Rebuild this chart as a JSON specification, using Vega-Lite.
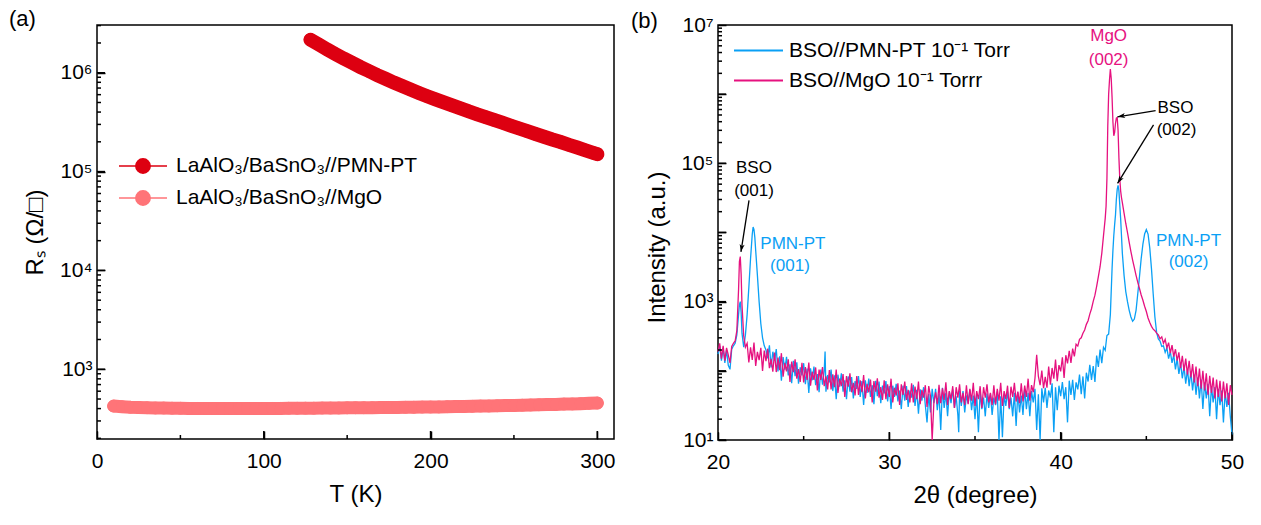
{
"$schema": "https://vega.github.io/schema/vega-lite/v6.json",
"background": "white",
"padding": {"left": 8, "top": 6, "right": 0, "bottom": 0},
"config": {
 "font": "Liberation Sans",
 "view": {"stroke": "black", "strokeWidth": 1.5},
 "axis": {"labelFont": "Liberation Sans", "labelFontSize": 21, "labelColor": "black", "titleFont": "Liberation Sans", "titleFontSize": 24, "titleFontWeight": "normal", "titleColor": "black", "domainColor": "black", "domainWidth": 1.5, "tickColor": "black", "tickWidth": 1.5, "grid": false, "labelFlush": false, "labelOverlap": false},
 "legend": {"labelFont": "Liberation Sans", "labelFontSize": 21, "labelColor": "black", "labelLimit": 500},
 "title": {"font": "Liberation Sans", "fontSize": 22, "fontWeight": "normal", "color": "black", "anchor": "start", "frame": "group"}
},
"datasets": {
 "pmn_rs": [{"T":128,"R":2160000},{"T":133,"R":1928000},{"T":138,"R":1718000},{"T":143,"R":1545000},{"T":148,"R":1390000},{"T":153,"R":1259000},{"T":158,"R":1140000},{"T":163,"R":1040000},{"T":168,"R":948000},{"T":173,"R":869000},{"T":178,"R":796000},{"T":183,"R":733000},{"T":188,"R":676000},{"T":193,"R":625000},{"T":198,"R":579000},{"T":203,"R":538000},{"T":208,"R":501000},{"T":213,"R":467000},{"T":218,"R":436000},{"T":223,"R":406000},{"T":228,"R":380000},{"T":233,"R":356000},{"T":238,"R":333000},{"T":243,"R":312000},{"T":248,"R":292000},{"T":253,"R":274000},{"T":258,"R":256000},{"T":263,"R":240000},{"T":268,"R":225000},{"T":273,"R":211000},{"T":278,"R":199000},{"T":283,"R":186000},{"T":288,"R":175000},{"T":293,"R":164000},{"T":298,"R":154000},{"T":300,"R":150000}],
 "mgo_rs": [{"T":10,"R":424},{"T":15,"R":418},{"T":20,"R":413},{"T":25,"R":410},{"T":30,"R":408},{"T":35,"R":406},{"T":40,"R":405},{"T":45,"R":404},{"T":50,"R":403},{"T":55,"R":402},{"T":60,"R":402},{"T":65,"R":401},{"T":70,"R":401},{"T":75,"R":401},{"T":80,"R":401},{"T":85,"R":401},{"T":90,"R":401},{"T":95,"R":401},{"T":100,"R":401},{"T":105,"R":402},{"T":110,"R":402},{"T":115,"R":403},{"T":120,"R":403},{"T":125,"R":404},{"T":130,"R":404},{"T":135,"R":405},{"T":140,"R":405},{"T":145,"R":406},{"T":150,"R":407},{"T":155,"R":408},{"T":160,"R":408},{"T":165,"R":409},{"T":170,"R":410},{"T":175,"R":411},{"T":180,"R":411},{"T":185,"R":412},{"T":190,"R":413},{"T":195,"R":414},{"T":200,"R":415},{"T":205,"R":416},{"T":210,"R":418},{"T":215,"R":419},{"T":220,"R":421},{"T":225,"R":422},{"T":230,"R":424},{"T":235,"R":425},{"T":240,"R":427},{"T":245,"R":429},{"T":250,"R":431},{"T":255,"R":433},{"T":260,"R":435},{"T":265,"R":437},{"T":270,"R":439},{"T":275,"R":441},{"T":280,"R":444},{"T":285,"R":446},{"T":290,"R":449},{"T":295,"R":452},{"T":300,"R":455}],
 "a_x_major": [{"v":0},{"v":100},{"v":200},{"v":300}],
 "a_x_minor": [{"v":50},{"v":150},{"v":250}],
 "a_y_major": [{"v":1000},{"v":10000},{"v":100000},{"v":1000000}],
 "a_y_minor": [{"v":200},{"v":300},{"v":400},{"v":500},{"v":600},{"v":700},{"v":800},{"v":900},{"v":2000},{"v":3000},{"v":4000},{"v":5000},{"v":6000},{"v":7000},{"v":8000},{"v":9000},{"v":20000},{"v":30000},{"v":40000},{"v":50000},{"v":60000},{"v":70000},{"v":80000},{"v":90000},{"v":200000},{"v":300000},{"v":400000},{"v":500000},{"v":600000},{"v":700000},{"v":800000},{"v":900000},{"v":2000000},{"v":3000000}],
 "b_x_major": [{"v":20},{"v":30},{"v":40},{"v":50}],
 "b_x_minor": [{"v":25},{"v":35},{"v":45}],
 "b_y_major": [{"v":10},{"v":100},{"v":1000},{"v":10000},{"v":100000},{"v":1000000},{"v":10000000}],
 "b_y_minor": [{"v":20},{"v":30},{"v":40},{"v":50},{"v":60},{"v":70},{"v":80},{"v":90},{"v":200},{"v":300},{"v":400},{"v":500},{"v":600},{"v":700},{"v":800},{"v":900},{"v":2000},{"v":3000},{"v":4000},{"v":5000},{"v":6000},{"v":7000},{"v":8000},{"v":9000},{"v":20000},{"v":30000},{"v":40000},{"v":50000},{"v":60000},{"v":70000},{"v":80000},{"v":90000},{"v":200000},{"v":300000},{"v":400000},{"v":500000},{"v":600000},{"v":700000},{"v":800000},{"v":900000},{"v":2000000},{"v":3000000},{"v":4000000},{"v":5000000},{"v":6000000},{"v":7000000},{"v":8000000},{"v":9000000}],
 "xrd_pmn": [{"angle":20,"intensity":175},{"angle":20.1,"intensity":230},{"angle":20.2,"intensity":140},{"angle":20.3,"intensity":215},{"angle":20.4,"intensity":130},{"angle":20.5,"intensity":200},{"angle":20.6,"intensity":120},{"angle":20.7,"intensity":105},{"angle":20.8,"intensity":205},{"angle":20.9,"intensity":230},{"angle":21,"intensity":250},{"angle":21.1,"intensity":330},{"angle":21.2,"intensity":650},{"angle":21.25,"intensity":900},{"angle":21.3,"intensity":1000},{"angle":21.35,"intensity":700},{"angle":21.4,"intensity":350},{"angle":21.5,"intensity":220},{"angle":21.6,"intensity":330},{"angle":21.7,"intensity":650},{"angle":21.8,"intensity":1600},{"angle":21.9,"intensity":4200},{"angle":22,"intensity":9500},{"angle":22.05,"intensity":12000},{"angle":22.1,"intensity":11000},{"angle":22.15,"intensity":8500},{"angle":22.2,"intensity":5500},{"angle":22.3,"intensity":2400},{"angle":22.4,"intensity":1000},{"angle":22.5,"intensity":480},{"angle":22.6,"intensity":300},{"angle":22.7,"intensity":230},{"angle":22.8,"intensity":200},{"angle":22.9,"intensity":152},{"angle":23,"intensity":234},{"angle":23.1,"intensity":112},{"angle":23.2,"intensity":189},{"angle":23.3,"intensity":140},{"angle":23.4,"intensity":207},{"angle":23.5,"intensity":98},{"angle":23.6,"intensity":162},{"angle":23.7,"intensity":72},{"angle":23.8,"intensity":158},{"angle":23.9,"intensity":104},{"angle":24,"intensity":159},{"angle":24.1,"intensity":86},{"angle":24.2,"intensity":124},{"angle":24.3,"intensity":66},{"angle":24.4,"intensity":140},{"angle":24.5,"intensity":84},{"angle":24.6,"intensity":133},{"angle":24.7,"intensity":65},{"angle":24.8,"intensity":112},{"angle":24.9,"intensity":86},{"angle":25,"intensity":129},{"angle":25.1,"intensity":64},{"angle":25.2,"intensity":108},{"angle":25.3,"intensity":48},{"angle":25.4,"intensity":109},{"angle":25.5,"intensity":73},{"angle":25.6,"intensity":115},{"angle":25.7,"intensity":62},{"angle":25.8,"intensity":90},{"angle":25.9,"intensity":49},{"angle":26,"intensity":104},{"angle":26.1,"intensity":63},{"angle":26.2,"intensity":101},{"angle":26.25,"intensity":190},{"angle":26.3,"intensity":50},{"angle":26.4,"intensity":87},{"angle":26.5,"intensity":68},{"angle":26.6,"intensity":104},{"angle":26.7,"intensity":51},{"angle":26.8,"intensity":86},{"angle":26.9,"intensity":39},{"angle":27,"intensity":88},{"angle":27.1,"intensity":59},{"angle":27.2,"intensity":92},{"angle":27.3,"intensity":50},{"angle":27.4,"intensity":73},{"angle":27.5,"intensity":39},{"angle":27.6,"intensity":83},{"angle":27.7,"intensity":50},{"angle":27.8,"intensity":81},{"angle":27.9,"intensity":40},{"angle":28,"intensity":71},{"angle":28.1,"intensity":55},{"angle":28.2,"intensity":84},{"angle":28.3,"intensity":42},{"angle":28.4,"intensity":71},{"angle":28.5,"intensity":32},{"angle":28.6,"intensity":73},{"angle":28.7,"intensity":48},{"angle":28.8,"intensity":77},{"angle":28.9,"intensity":42},{"angle":29,"intensity":62},{"angle":29.1,"intensity":33},{"angle":29.2,"intensity":72},{"angle":29.3,"intensity":43},{"angle":29.4,"intensity":70},{"angle":29.5,"intensity":34},{"angle":29.6,"intensity":61},{"angle":29.7,"intensity":47},{"angle":29.8,"intensity":71},{"angle":29.9,"intensity":36},{"angle":30,"intensity":60},{"angle":30.1,"intensity":28},{"angle":30.2,"intensity":61},{"angle":30.3,"intensity":42},{"angle":30.4,"intensity":65},{"angle":30.5,"intensity":36},{"angle":30.6,"intensity":52},{"angle":30.7,"intensity":28},{"angle":30.8,"intensity":61},{"angle":30.9,"intensity":37},{"angle":31,"intensity":60},{"angle":31.1,"intensity":30},{"angle":31.2,"intensity":52},{"angle":31.3,"intensity":41},{"angle":31.4,"intensity":63},{"angle":31.5,"intensity":31},{"angle":31.6,"intensity":53},{"angle":31.7,"intensity":24},{"angle":31.8,"intensity":54},{"angle":31.9,"intensity":37},{"angle":32,"intensity":58},{"angle":32.1,"intensity":32},{"angle":32.2,"intensity":18},{"angle":32.3,"intensity":46},{"angle":32.4,"intensity":25},{"angle":32.5,"intensity":55},{"angle":32.6,"intensity":34},{"angle":32.7,"intensity":55},{"angle":32.8,"intensity":27},{"angle":32.9,"intensity":47},{"angle":33,"intensity":14},{"angle":33.1,"intensity":57},{"angle":33.2,"intensity":29},{"angle":33.3,"intensity":48},{"angle":33.4,"intensity":22},{"angle":33.5,"intensity":50},{"angle":33.6,"intensity":34},{"angle":33.7,"intensity":54},{"angle":33.8,"intensity":29},{"angle":33.9,"intensity":43},{"angle":34,"intensity":23},{"angle":34.05,"intensity":13},{"angle":34.1,"intensity":51},{"angle":34.2,"intensity":31},{"angle":34.3,"intensity":51},{"angle":34.4,"intensity":25},{"angle":34.5,"intensity":44},{"angle":34.6,"intensity":34},{"angle":34.7,"intensity":53},{"angle":34.8,"intensity":27},{"angle":34.9,"intensity":44},{"angle":35,"intensity":20},{"angle":35.1,"intensity":46},{"angle":35.2,"intensity":13},{"angle":35.3,"intensity":50},{"angle":35.4,"intensity":28},{"angle":35.5,"intensity":41},{"angle":35.6,"intensity":22},{"angle":35.7,"intensity":47},{"angle":35.8,"intensity":29},{"angle":35.9,"intensity":47},{"angle":36,"intensity":23},{"angle":36.1,"intensity":41},{"angle":36.2,"intensity":32},{"angle":36.3,"intensity":50},{"angle":36.4,"intensity":10},{"angle":36.5,"intensity":43},{"angle":36.6,"intensity":11},{"angle":36.7,"intensity":45},{"angle":36.8,"intensity":31},{"angle":36.9,"intensity":50},{"angle":37,"intensity":28},{"angle":37.1,"intensity":41},{"angle":37.2,"intensity":22},{"angle":37.3,"intensity":48},{"angle":37.4,"intensity":16},{"angle":37.5,"intensity":49},{"angle":37.6,"intensity":25},{"angle":37.7,"intensity":44},{"angle":37.8,"intensity":23},{"angle":37.9,"intensity":55},{"angle":38,"intensity":28},{"angle":38.1,"intensity":48},{"angle":38.2,"intensity":22},{"angle":38.3,"intensity":51},{"angle":38.4,"intensity":35},{"angle":38.5,"intensity":55},{"angle":38.6,"intensity":14},{"angle":38.7,"intensity":46},{"angle":38.8,"intensity":10},{"angle":38.9,"intensity":56},{"angle":39,"intensity":35},{"angle":39.1,"intensity":57},{"angle":39.2,"intensity":29},{"angle":39.3,"intensity":52},{"angle":39.4,"intensity":41},{"angle":39.5,"intensity":66},{"angle":39.6,"intensity":13},{"angle":39.7,"intensity":58},{"angle":39.8,"intensity":27},{"angle":39.9,"intensity":61},{"angle":40,"intensity":43},{"angle":40.1,"intensity":69},{"angle":40.2,"intensity":39},{"angle":40.3,"intensity":58},{"angle":40.4,"intensity":18},{"angle":40.5,"intensity":72},{"angle":40.6,"intensity":45},{"angle":40.7,"intensity":74},{"angle":40.8,"intensity":38},{"angle":40.9,"intensity":68},{"angle":41,"intensity":54},{"angle":41.1,"intensity":88},{"angle":41.2,"intensity":46},{"angle":41.3,"intensity":83},{"angle":41.4,"intensity":40},{"angle":41.5,"intensity":94},{"angle":41.6,"intensity":70},{"angle":41.7,"intensity":122},{"angle":41.8,"intensity":74},{"angle":41.9,"intensity":117},{"angle":42,"intensity":69},{"angle":42.1,"intensity":166},{"angle":42.2,"intensity":114},{"angle":42.3,"intensity":203},{"angle":42.4,"intensity":129},{"angle":42.5,"intensity":219},{"angle":42.6,"intensity":198},{"angle":42.7,"intensity":324},{"angle":42.8,"intensity":340},{"angle":42.9,"intensity":650},{"angle":43,"intensity":3000},{"angle":43.05,"intensity":5500},{"angle":43.1,"intensity":9000},{"angle":43.15,"intensity":13000},{"angle":43.2,"intensity":18000},{"angle":43.25,"intensity":30000},{"angle":43.3,"intensity":42000},{"angle":43.35,"intensity":48000},{"angle":43.4,"intensity":40000},{"angle":43.45,"intensity":25000},{"angle":43.5,"intensity":16000},{"angle":43.55,"intensity":9000},{"angle":43.6,"intensity":5000},{"angle":43.7,"intensity":2400},{"angle":43.8,"intensity":1400},{"angle":43.9,"intensity":1000},{"angle":44,"intensity":750},{"angle":44.1,"intensity":600},{"angle":44.2,"intensity":520},{"angle":44.3,"intensity":560},{"angle":44.4,"intensity":750},{"angle":44.5,"intensity":1300},{"angle":44.6,"intensity":2300},{"angle":44.7,"intensity":4200},{"angle":44.8,"intensity":6800},{"angle":44.9,"intensity":9500},{"angle":45,"intensity":11000},{"angle":45.1,"intensity":9500},{"angle":45.2,"intensity":6000},{"angle":45.3,"intensity":3000},{"angle":45.4,"intensity":1300},{"angle":45.5,"intensity":600},{"angle":45.6,"intensity":360},{"angle":45.7,"intensity":290},{"angle":45.8,"intensity":270},{"angle":45.9,"intensity":225},{"angle":46,"intensity":230},{"angle":46.1,"intensity":185},{"angle":46.2,"intensity":215},{"angle":46.3,"intensity":150},{"angle":46.4,"intensity":190},{"angle":46.5,"intensity":130},{"angle":46.6,"intensity":170},{"angle":46.7,"intensity":105},{"angle":46.8,"intensity":150},{"angle":46.9,"intensity":90},{"angle":47,"intensity":130},{"angle":47.1,"intensity":78},{"angle":47.2,"intensity":115},{"angle":47.3,"intensity":65},{"angle":47.4,"intensity":105},{"angle":47.5,"intensity":60},{"angle":47.6,"intensity":98},{"angle":47.7,"intensity":52},{"angle":47.8,"intensity":88},{"angle":47.9,"intensity":45},{"angle":48,"intensity":80},{"angle":48.1,"intensity":40},{"angle":48.2,"intensity":75},{"angle":48.3,"intensity":28},{"angle":48.4,"intensity":68},{"angle":48.5,"intensity":40},{"angle":48.6,"intensity":65},{"angle":48.7,"intensity":22},{"angle":48.8,"intensity":60},{"angle":48.9,"intensity":35},{"angle":49,"intensity":58},{"angle":49.1,"intensity":20},{"angle":49.2,"intensity":55},{"angle":49.3,"intensity":32},{"angle":49.4,"intensity":52},{"angle":49.5,"intensity":18},{"angle":49.6,"intensity":50},{"angle":49.7,"intensity":30},{"angle":49.8,"intensity":48},{"angle":49.9,"intensity":22},{"angle":50,"intensity":12}],
 "xrd_mgo": [{"angle":20,"intensity":190},{"angle":20.1,"intensity":250},{"angle":20.2,"intensity":150},{"angle":20.3,"intensity":230},{"angle":20.4,"intensity":140},{"angle":20.5,"intensity":215},{"angle":20.6,"intensity":170},{"angle":20.7,"intensity":130},{"angle":20.8,"intensity":225},{"angle":20.9,"intensity":250},{"angle":21,"intensity":270},{"angle":21.1,"intensity":380},{"angle":21.2,"intensity":1500},{"angle":21.25,"intensity":3800},{"angle":21.3,"intensity":4500},{"angle":21.35,"intensity":2500},{"angle":21.4,"intensity":900},{"angle":21.5,"intensity":320},{"angle":21.6,"intensity":220},{"angle":21.7,"intensity":250},{"angle":21.8,"intensity":132},{"angle":21.9,"intensity":218},{"angle":22,"intensity":144},{"angle":22.1,"intensity":257},{"angle":22.2,"intensity":118},{"angle":22.3,"intensity":188},{"angle":22.4,"intensity":143},{"angle":22.5,"intensity":215},{"angle":22.6,"intensity":100},{"angle":22.7,"intensity":196},{"angle":22.8,"intensity":138},{"angle":22.9,"intensity":209},{"angle":23,"intensity":109},{"angle":23.1,"intensity":149},{"angle":23.2,"intensity":97},{"angle":23.3,"intensity":184},{"angle":23.4,"intensity":96},{"angle":23.5,"intensity":156},{"angle":23.6,"intensity":102},{"angle":23.7,"intensity":180},{"angle":23.8,"intensity":82},{"angle":23.9,"intensity":130},{"angle":24,"intensity":98},{"angle":24.1,"intensity":147},{"angle":24.2,"intensity":69},{"angle":24.3,"intensity":136},{"angle":24.4,"intensity":96},{"angle":24.5,"intensity":147},{"angle":24.6,"intensity":77},{"angle":24.7,"intensity":106},{"angle":24.8,"intensity":69},{"angle":24.9,"intensity":131},{"angle":25,"intensity":68},{"angle":25.1,"intensity":113},{"angle":25.2,"intensity":74},{"angle":25.3,"intensity":132},{"angle":25.4,"intensity":61},{"angle":25.5,"intensity":97},{"angle":25.6,"intensity":74},{"angle":25.7,"intensity":112},{"angle":25.8,"intensity":52},{"angle":25.9,"intensity":104},{"angle":26,"intensity":74},{"angle":26.1,"intensity":113},{"angle":26.2,"intensity":60},{"angle":26.3,"intensity":83},{"angle":26.4,"intensity":54},{"angle":26.5,"intensity":103},{"angle":26.6,"intensity":54},{"angle":26.7,"intensity":89},{"angle":26.8,"intensity":58},{"angle":26.9,"intensity":104},{"angle":27,"intensity":48},{"angle":27.1,"intensity":77},{"angle":27.2,"intensity":60},{"angle":27.3,"intensity":90},{"angle":27.4,"intensity":42},{"angle":27.5,"intensity":84},{"angle":27.6,"intensity":59},{"angle":27.7,"intensity":92},{"angle":27.8,"intensity":49},{"angle":27.9,"intensity":67},{"angle":28,"intensity":44},{"angle":28.1,"intensity":84},{"angle":28.2,"intensity":45},{"angle":28.3,"intensity":73},{"angle":28.4,"intensity":49},{"angle":28.5,"intensity":87},{"angle":28.6,"intensity":40},{"angle":28.7,"intensity":65},{"angle":28.8,"intensity":49},{"angle":28.9,"intensity":75},{"angle":29,"intensity":35},{"angle":29.1,"intensity":71},{"angle":29.2,"intensity":50},{"angle":29.3,"intensity":78},{"angle":29.4,"intensity":41},{"angle":29.5,"intensity":58},{"angle":29.6,"intensity":38},{"angle":29.7,"intensity":73},{"angle":29.8,"intensity":39},{"angle":29.9,"intensity":64},{"angle":30,"intensity":42},{"angle":30.1,"intensity":77},{"angle":30.2,"intensity":35},{"angle":30.3,"intensity":57},{"angle":30.4,"intensity":44},{"angle":30.5,"intensity":66},{"angle":30.6,"intensity":32},{"angle":30.7,"intensity":64},{"angle":30.8,"intensity":45},{"angle":30.9,"intensity":70},{"angle":31,"intensity":38},{"angle":31.1,"intensity":53},{"angle":31.2,"intensity":35},{"angle":31.3,"intensity":66},{"angle":31.4,"intensity":35},{"angle":31.5,"intensity":59},{"angle":31.6,"intensity":39},{"angle":31.7,"intensity":70},{"angle":31.8,"intensity":33},{"angle":31.9,"intensity":53},{"angle":32,"intensity":41},{"angle":32.1,"intensity":62},{"angle":32.2,"intensity":30},{"angle":32.3,"intensity":60},{"angle":32.4,"intensity":43},{"angle":32.5,"intensity":10},{"angle":32.6,"intensity":35},{"angle":32.7,"intensity":49},{"angle":32.8,"intensity":33},{"angle":32.9,"intensity":63},{"angle":33,"intensity":34},{"angle":33.1,"intensity":56},{"angle":33.2,"intensity":38},{"angle":33.3,"intensity":68},{"angle":33.4,"intensity":32},{"angle":33.5,"intensity":51},{"angle":33.6,"intensity":39},{"angle":33.7,"intensity":60},{"angle":33.8,"intensity":29},{"angle":33.9,"intensity":58},{"angle":34,"intensity":41},{"angle":34.1,"intensity":64},{"angle":34.2,"intensity":35},{"angle":34.3,"intensity":48},{"angle":34.4,"intensity":32},{"angle":34.5,"intensity":62},{"angle":34.6,"intensity":33},{"angle":34.7,"intensity":55},{"angle":34.8,"intensity":37},{"angle":34.9,"intensity":67},{"angle":35,"intensity":31},{"angle":35.1,"intensity":51},{"angle":35.2,"intensity":39},{"angle":35.3,"intensity":60},{"angle":35.4,"intensity":29},{"angle":35.5,"intensity":58},{"angle":35.6,"intensity":41},{"angle":35.7,"intensity":64},{"angle":35.8,"intensity":35},{"angle":35.9,"intensity":48},{"angle":36,"intensity":32},{"angle":36.1,"intensity":62},{"angle":36.2,"intensity":33},{"angle":36.3,"intensity":55},{"angle":36.4,"intensity":37},{"angle":36.5,"intensity":67},{"angle":36.6,"intensity":31},{"angle":36.7,"intensity":51},{"angle":36.8,"intensity":39},{"angle":36.9,"intensity":61},{"angle":37,"intensity":29},{"angle":37.1,"intensity":59},{"angle":37.2,"intensity":42},{"angle":37.3,"intensity":67},{"angle":37.4,"intensity":36},{"angle":37.5,"intensity":50},{"angle":37.6,"intensity":34},{"angle":37.7,"intensity":66},{"angle":37.8,"intensity":36},{"angle":37.9,"intensity":61},{"angle":38,"intensity":42},{"angle":38.1,"intensity":77},{"angle":38.2,"intensity":37},{"angle":38.3,"intensity":62},{"angle":38.4,"intensity":49},{"angle":38.5,"intensity":78},{"angle":38.6,"intensity":170},{"angle":38.7,"intensity":83},{"angle":38.8,"intensity":62},{"angle":38.9,"intensity":101},{"angle":39,"intensity":56},{"angle":39.1,"intensity":82},{"angle":39.2,"intensity":57},{"angle":39.3,"intensity":115},{"angle":39.4,"intensity":63},{"angle":39.5,"intensity":110},{"angle":39.6,"intensity":77},{"angle":39.7,"intensity":145},{"angle":39.8,"intensity":71},{"angle":39.9,"intensity":121},{"angle":40,"intensity":98},{"angle":40.1,"intensity":157},{"angle":40.2,"intensity":79},{"angle":40.3,"intensity":168},{"angle":40.4,"intensity":128},{"angle":40.5,"intensity":195},{"angle":40.6,"intensity":130},{"angle":40.7,"intensity":210},{"angle":40.8,"intensity":162},{"angle":40.9,"intensity":242},{"angle":41,"intensity":228},{"angle":41.1,"intensity":285},{"angle":41.2,"intensity":300},{"angle":41.3,"intensity":350},{"angle":41.4,"intensity":390},{"angle":41.5,"intensity":470},{"angle":41.6,"intensity":530},{"angle":41.7,"intensity":660},{"angle":41.8,"intensity":790},{"angle":41.9,"intensity":1010},{"angle":42,"intensity":1240},{"angle":42.1,"intensity":1660},{"angle":42.2,"intensity":2300},{"angle":42.3,"intensity":3200},{"angle":42.4,"intensity":5000},{"angle":42.5,"intensity":9000},{"angle":42.55,"intensity":12000},{"angle":42.6,"intensity":16000},{"angle":42.65,"intensity":24000},{"angle":42.7,"intensity":60000},{"angle":42.75,"intensity":350000},{"angle":42.8,"intensity":1000000},{"angle":42.85,"intensity":1600000},{"angle":42.9,"intensity":2300000},{"angle":42.95,"intensity":1700000},{"angle":43,"intensity":900000},{"angle":43.05,"intensity":400000},{"angle":43.1,"intensity":250000},{"angle":43.15,"intensity":280000},{"angle":43.2,"intensity":380000},{"angle":43.25,"intensity":450000},{"angle":43.3,"intensity":460000},{"angle":43.35,"intensity":300000},{"angle":43.4,"intensity":120000},{"angle":43.45,"intensity":60000},{"angle":43.5,"intensity":40000},{"angle":43.55,"intensity":32000},{"angle":43.6,"intensity":27000},{"angle":43.7,"intensity":19000},{"angle":43.8,"intensity":13500},{"angle":43.9,"intensity":10000},{"angle":44,"intensity":7200},{"angle":44.1,"intensity":5300},{"angle":44.2,"intensity":4000},{"angle":44.3,"intensity":3100},{"angle":44.4,"intensity":2400},{"angle":44.5,"intensity":1900},{"angle":44.6,"intensity":1550},{"angle":44.7,"intensity":1250},{"angle":44.8,"intensity":1050},{"angle":44.9,"intensity":860},{"angle":45,"intensity":720},{"angle":45.1,"intensity":580},{"angle":45.2,"intensity":500},{"angle":45.3,"intensity":440},{"angle":45.4,"intensity":400},{"angle":45.5,"intensity":380},{"angle":45.6,"intensity":350},{"angle":45.7,"intensity":330},{"angle":45.8,"intensity":290},{"angle":45.9,"intensity":310},{"angle":46,"intensity":250},{"angle":46.1,"intensity":285},{"angle":46.2,"intensity":215},{"angle":46.3,"intensity":255},{"angle":46.4,"intensity":180},{"angle":46.5,"intensity":235},{"angle":46.6,"intensity":160},{"angle":46.7,"intensity":205},{"angle":46.8,"intensity":140},{"angle":46.9,"intensity":185},{"angle":47,"intensity":110},{"angle":47.1,"intensity":165},{"angle":47.2,"intensity":100},{"angle":47.3,"intensity":150},{"angle":47.4,"intensity":88},{"angle":47.5,"intensity":140},{"angle":47.6,"intensity":80},{"angle":47.7,"intensity":125},{"angle":47.8,"intensity":68},{"angle":47.9,"intensity":115},{"angle":48,"intensity":60},{"angle":48.1,"intensity":108},{"angle":48.2,"intensity":55},{"angle":48.3,"intensity":100},{"angle":48.4,"intensity":52},{"angle":48.5,"intensity":92},{"angle":48.6,"intensity":45},{"angle":48.7,"intensity":85},{"angle":48.8,"intensity":48},{"angle":48.9,"intensity":80},{"angle":49,"intensity":40},{"angle":49.1,"intensity":75},{"angle":49.2,"intensity":42},{"angle":49.3,"intensity":72},{"angle":49.4,"intensity":36},{"angle":49.5,"intensity":70},{"angle":49.6,"intensity":40},{"angle":49.7,"intensity":66},{"angle":49.8,"intensity":32},{"angle":49.9,"intensity":62},{"angle":50,"intensity":45}],
 "notes": [{"angle":22.1,"intensity":85000,"label":"BSO","kind":"black"},{"angle":22.1,"intensity":39400,"label":"(001)","kind":"black"},{"angle":46.7,"intensity":638000,"label":"BSO","kind":"black"},{"angle":46.76,"intensity":305000,"label":"(002)","kind":"black"},{"angle":24.37,"intensity":6870,"label":"PMN-PT","kind":"blue"},{"angle":24.2,"intensity":3280,"label":"(001)","kind":"blue"},{"angle":47.46,"intensity":7600,"label":"PMN-PT","kind":"blue"},{"angle":47.46,"intensity":3750,"label":"(002)","kind":"blue"},{"angle":42.8,"intensity":6900000,"label":"MgO","kind":"pink"},{"angle":42.8,"intensity":3100000,"label":"(002)","kind":"pink"}],
 "arrows": [{"id":"a1","angle":21.81,"intensity":29100,"angle2":21.34,"intensity2":5250},{"id":"a2","angle":45.54,"intensity":577000,"angle2":43.32,"intensity2":471000},{"id":"a3","angle":45.42,"intensity":360000,"angle2":43.32,"intensity2":51400}]
},
"spacing": 3,
"resolve": {"scale": {"color": "independent", "fill": "independent", "stroke": "independent"}},
"hconcat": [
 {
  "width": 517, "height": 414,
  "title": {"text": "(a)", "dx": -88, "offset": -19},
  "resolve": {"axis": {"x": "independent", "y": "independent"}},
  "layer": [
   {
    "encoding": {
     "x": {"field": "T", "type": "quantitative", "scale": {"domain": [0, 310], "nice": false}, "axis": {"orient": "bottom", "title": "T (K)", "values": [0,100,200,300], "offset": -8, "tickSize": 8, "domain": false, "labelPadding": 11, "titlePadding": 11}},
     "y": {"field": "R", "type": "quantitative", "scale": {"type": "log", "domain": [197, 3040000], "nice": false}, "axis": {"orient": "left", "title": "Rₛ (Ω/□)", "values": [1000,10000,100000,1000000], "labelExpr": "'10' + ['⁰','¹','²','³','⁴','⁵','⁶','⁷'][round(log(datum.value)/LN10)]", "offset": -8, "tickSize": 8, "domain": false, "labelPadding": 5, "titlePadding": 12}}
    },
    "layer": [
     {"data": {"name": "pmn_rs"}, "mark": {"type": "line", "color": "#dd0011", "strokeWidth": 14, "strokeCap": "round"}},
     {"data": {"name": "mgo_rs"}, "mark": {"type": "line", "color": "#ff7478", "strokeWidth": 13, "strokeCap": "round"}},
     {"data": {"name": "pmn_rs"}, "mark": {"type": "point", "shape": "circle", "filled": true, "size": 150, "opacity": 1, "strokeWidth": 1},
      "encoding": {
       "fill": {"datum": "LaAlO₃/BaSnO₃//PMN-PT", "type": "nominal", "scale": {"domain": ["LaAlO₃/BaSnO₃//PMN-PT", "LaAlO₃/BaSnO₃//MgO"], "range": ["#dd0011", "#ff7478"]}, "legend": {"orient": "none", "legendX": 33, "legendY": 128, "title": null, "symbolType": "M-2,0H-0.6M0.6,0H2M0.6,0A0.6,0.6 0 1 1 -0.6,0A0.6,0.6 0 1 1 0.6,0Z", "symbolSize": 576, "symbolStrokeWidth": 1.5, "labelOffset": 20, "rowPadding": 8, "labelFontSize": 21, "labelLimit": 500}},
       "stroke": {"datum": "LaAlO₃/BaSnO₃//PMN-PT", "type": "nominal", "scale": {"domain": ["LaAlO₃/BaSnO₃//PMN-PT", "LaAlO₃/BaSnO₃//MgO"], "range": ["#dd0011", "#ff7478"]}, "legend": {"orient": "none", "legendX": 33, "legendY": 128, "title": null, "symbolType": "M-2,0H-0.6M0.6,0H2M0.6,0A0.6,0.6 0 1 1 -0.6,0A0.6,0.6 0 1 1 0.6,0Z", "symbolSize": 576, "symbolStrokeWidth": 1.5, "labelOffset": 20, "rowPadding": 8, "labelFontSize": 21, "labelLimit": 500}}
      }},
     {"data": {"name": "mgo_rs"}, "mark": {"type": "point", "shape": "circle", "filled": true, "size": 140, "opacity": 1, "strokeWidth": 1},
      "encoding": {
       "fill": {"datum": "LaAlO₃/BaSnO₃//MgO", "type": "nominal"},
       "stroke": {"datum": "LaAlO₃/BaSnO₃//MgO", "type": "nominal"}
      }}
    ]
   },
   {"data": {"name": "a_x_major"}, "mark": {"type": "tick", "orient": "vertical", "size": 16, "thickness": 1.5, "color": "black", "opacity": 1, "clip": true},
    "encoding": {"x": {"field": "v", "type": "quantitative", "axis": null}, "y": {"datum": 197, "type": "quantitative", "axis": null}}},
   {"data": {"name": "a_x_minor"}, "mark": {"type": "tick", "orient": "vertical", "size": 8, "thickness": 1.5, "color": "black", "opacity": 1, "clip": true},
    "encoding": {"x": {"field": "v", "type": "quantitative", "axis": null}, "y": {"datum": 197, "type": "quantitative", "axis": null}}},
   {"data": {"name": "a_y_major"}, "mark": {"type": "tick", "orient": "horizontal", "size": 16, "thickness": 1.5, "color": "black", "opacity": 1, "clip": true},
    "encoding": {"y": {"field": "v", "type": "quantitative", "axis": null}, "x": {"datum": 0, "type": "quantitative", "axis": null}}},
   {"data": {"name": "a_y_minor"}, "mark": {"type": "tick", "orient": "horizontal", "size": 8, "thickness": 1.5, "color": "black", "opacity": 1, "clip": true},
    "encoding": {"y": {"field": "v", "type": "quantitative", "axis": null}, "x": {"datum": 0, "type": "quantitative", "axis": null}}}
  ]
 },
 {
  "width": 514, "height": 415,
  "title": {"text": "(b)", "dx": -87, "offset": -19},
  "resolve": {"axis": {"x": "independent", "y": "independent"}},
  "layer": [
   {
    "encoding": {
     "x": {"field": "angle", "type": "quantitative", "scale": {"domain": [20, 50], "nice": false}, "axis": {"orient": "bottom", "title": "2θ (degree)", "values": [20,30,40,50], "offset": -8, "tickSize": 8, "domain": false, "labelPadding": 11, "titlePadding": 11}},
     "y": {"field": "intensity", "type": "quantitative", "scale": {"type": "log", "domain": [10, 10000000], "nice": false}, "axis": {"orient": "left", "title": "Intensity (a.u.)", "values": [10,100,1000,10000,100000,1000000,10000000], "labelExpr": "round(log(datum.value)/LN10) % 2 == 1 ? '10' + ['⁰','¹','²','³','⁴','⁵','⁶','⁷'][round(log(datum.value)/LN10)] : ''", "offset": -8, "tickSize": 8, "domain": false, "labelPadding": 5, "titlePadding": 11, "titleY": 222}}
    },
    "layer": [
     {"data": {"name": "xrd_pmn"}, "mark": {"type": "line", "strokeWidth": 1.3},
      "encoding": {"color": {"datum": "BSO//PMN-PT 10⁻¹ Torr", "type": "nominal", "scale": {"domain": ["BSO//PMN-PT 10⁻¹ Torr", "BSO//MgO 10⁻¹ Torrr"], "range": ["#0aa0f5", "#e6117f"]}, "legend": {"orient": "none", "legendX": 27, "legendY": 12, "title": null, "symbolType": "M-2,0H2", "symbolSize": 600, "symbolStrokeWidth": 2, "labelOffset": 17, "rowPadding": 6, "labelFontSize": 21, "labelLimit": 500}}}},
     {"data": {"name": "xrd_mgo"}, "mark": {"type": "line", "strokeWidth": 1.3},
      "encoding": {"color": {"datum": "BSO//MgO 10⁻¹ Torrr", "type": "nominal"}}},
     {"data": {"name": "arrows"}, "mark": {"type": "rule", "color": "black", "strokeWidth": 1.3},
      "encoding": {"x2": {"field": "angle2"}, "y2": {"field": "intensity2"}}},
     {"data": {"name": "arrows"}, "transform": [{"filter": "datum.id == 'a1'"}], "mark": {"type": "point", "shape": "M0,0L-0.8,-2.4L0,-1.8L0.8,-2.4Z", "filled": true, "color": "black", "size": 40, "opacity": 1, "angle": 9},
      "encoding": {"x": {"field": "angle2", "type": "quantitative"}, "y": {"field": "intensity2", "type": "quantitative"}}},
     {"data": {"name": "arrows"}, "transform": [{"filter": "datum.id == 'a2'"}], "mark": {"type": "point", "shape": "M0,0L-0.8,-2.4L0,-1.8L0.8,-2.4Z", "filled": true, "color": "black", "size": 40, "opacity": 1, "angle": 81},
      "encoding": {"x": {"field": "angle2", "type": "quantitative"}, "y": {"field": "intensity2", "type": "quantitative"}}},
     {"data": {"name": "arrows"}, "transform": [{"filter": "datum.id == 'a3'"}], "mark": {"type": "point", "shape": "M0,0L-0.8,-2.4L0,-1.8L0.8,-2.4Z", "filled": true, "color": "black", "size": 40, "opacity": 1, "angle": 32},
      "encoding": {"x": {"field": "angle2", "type": "quantitative"}, "y": {"field": "intensity2", "type": "quantitative"}}},
     {"data": {"name": "notes"}, "transform": [{"filter": "datum.kind == 'black'"}], "mark": {"type": "text", "color": "black", "fontSize": 17, "font": "Liberation Sans", "align": "center", "baseline": "middle"}, "encoding": {"text": {"field": "label"}}},
     {"data": {"name": "notes"}, "transform": [{"filter": "datum.kind == 'blue'"}], "mark": {"type": "text", "color": "#0aa0f5", "fontSize": 17, "font": "Liberation Sans", "align": "center", "baseline": "middle"}, "encoding": {"text": {"field": "label"}}},
     {"data": {"name": "notes"}, "transform": [{"filter": "datum.kind == 'pink'"}], "mark": {"type": "text", "color": "#e6117f", "fontSize": 17, "font": "Liberation Sans", "align": "center", "baseline": "middle"}, "encoding": {"text": {"field": "label"}}}
    ]
   },
   {"data": {"name": "b_x_major"}, "mark": {"type": "tick", "orient": "vertical", "size": 16, "thickness": 1.5, "color": "black", "opacity": 1, "clip": true},
    "encoding": {"x": {"field": "v", "type": "quantitative", "axis": null}, "y": {"datum": 10, "type": "quantitative", "axis": null}}},
   {"data": {"name": "b_x_minor"}, "mark": {"type": "tick", "orient": "vertical", "size": 8, "thickness": 1.5, "color": "black", "opacity": 1, "clip": true},
    "encoding": {"x": {"field": "v", "type": "quantitative", "axis": null}, "y": {"datum": 10, "type": "quantitative", "axis": null}}},
   {"data": {"name": "b_y_major"}, "mark": {"type": "tick", "orient": "horizontal", "size": 16, "thickness": 1.5, "color": "black", "opacity": 1, "clip": true},
    "encoding": {"y": {"field": "v", "type": "quantitative", "axis": null}, "x": {"datum": 20, "type": "quantitative", "axis": null}}},
   {"data": {"name": "b_y_minor"}, "mark": {"type": "tick", "orient": "horizontal", "size": 8, "thickness": 1.5, "color": "black", "opacity": 1, "clip": true},
    "encoding": {"y": {"field": "v", "type": "quantitative", "axis": null}, "x": {"datum": 20, "type": "quantitative", "axis": null}}}
  ]
 }
]
}
